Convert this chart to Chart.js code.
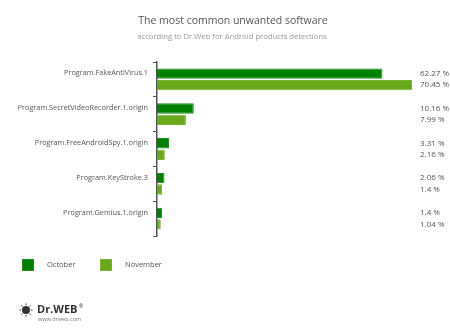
<!DOCTYPE html>
<html>
<head>
<meta charset="utf-8">
<script src="https://cdn.jsdelivr.net/npm/chart.js@4/dist/chart.umd.min.js"></script>
<style>
  html, body { margin: 0; padding: 0; background: #ffffff; }
  #wrap { position: relative; width: 450px; height: 332px; }
</style>
</head>
<body>
<div id="wrap"><canvas id="c" width="450" height="332"></canvas></div>
<script>
const categories = [
  "Program.FakeAntiVirus.1",
  "Program.SecretVideoRecorder.1.origin",
  "Program.FreeAndroidSpy.1.origin",
  "Program.KeyStroke.3",
  "Program.Gemius.1.origin"
];
const seriesNames = ["October", "November"];
const october = [62.27, 10.16, 3.31, 2.06, 1.4];
const november = [70.45, 7.99, 2.16, 1.4, 1.04];
const titleText = "The most common unwanted software";
const subtitleText = "according to Dr.Web for Android products detections";

const FONT = "'Open Sans', 'Noto Sans', sans-serif";
const colors = ["#008000", "#6aa81b"];
const borders = ["#1f8f1f", "#7bb535"];

const overlay = {
  id: 'overlay',
  afterDraw(chart) {
    const ctx = chart.ctx;
    ctx.save();
    // title
    ctx.textAlign = 'center';
    ctx.textBaseline = 'middle';
    ctx.fillStyle = '#555555';
    ctx.font = "10.5px " + FONT;
    ctx.fillText(titleText, 233, 21);
    ctx.fillStyle = '#999999';
    ctx.font = "7.7px " + FONT;
    ctx.fillText(subtitleText, 232, 37);

    // value labels
    ctx.textAlign = 'left';
    ctx.fillStyle = '#555555';
    ctx.font = "8px " + FONT;
    chart.data.datasets.forEach((ds, di) => {
      const meta = chart.getDatasetMeta(di);
      meta.data.forEach((bar, i) => {
        ctx.fillText(ds.data[i] + " %", 420, bar.y);
      });
    });

    // legend
    const legendX = [22, 100];
    chart.data.datasets.forEach((ds, di) => {
      const x = legendX[di];
      ctx.fillStyle = ds.backgroundColor;
      ctx.fillRect(x, 259, 12, 12);
      ctx.strokeStyle = ds.borderColor;
      ctx.lineWidth = 1;
      ctx.strokeRect(x + 0.5, 259.5, 11, 11);
      ctx.fillStyle = '#555555';
      ctx.font = "7.5px " + FONT;
      ctx.textAlign = 'left';
      ctx.fillText(ds.label, x + 25, 265);
    });

    // logo
    ctx.fillStyle = '#333333';
    ctx.beginPath();
    ctx.arc(26, 310, 4, 0, Math.PI * 2);
    ctx.fill();
    ctx.strokeStyle = '#333333';
    ctx.lineWidth = 1;
    for (let k = 0; k < 8; k++) {
      const a = k * Math.PI / 4;
      ctx.beginPath();
      ctx.moveTo(26 + Math.cos(a) * 5, 310 + Math.sin(a) * 5);
      ctx.lineTo(26 + Math.cos(a) * 6.5, 310 + Math.sin(a) * 6.5);
      ctx.stroke();
    }
    ctx.font = "bold 11px " + FONT;
    ctx.fillStyle = '#333333';
    ctx.textAlign = 'left';
    ctx.fillText("Dr.WEB", 37, 310);
    ctx.font = "5px " + FONT;
    ctx.fillText("®", 79, 307);
    ctx.fillStyle = '#777777';
    ctx.font = "5.5px " + FONT;
    ctx.fillText("www.drweb.com", 38, 319);
    ctx.restore();
  }
};

new Chart(document.getElementById('c'), {
  type: 'bar',
  data: {
    labels: categories,
    datasets: [
      { label: seriesNames[0], data: october, backgroundColor: colors[0], borderColor: borders[0], borderWidth: 1 },
      { label: seriesNames[1], data: november, backgroundColor: colors[1], borderColor: borders[1], borderWidth: 1 }
    ]
  },
  options: {
    indexAxis: 'y',
    responsive: false,
    animation: false,
    devicePixelRatio: 1,
    layout: { padding: { top: 62, bottom: 96, left: 0, right: 38 } },
    categoryPercentage: 0.66,
    barPercentage: 0.9,
    plugins: {
      legend: { display: false },
      title: { display: false },
      tooltip: { enabled: false }
    },
    scales: {
      x: {
        display: false,
        min: 0,
        max: Math.max(...october, ...november)
      },
      y: {
        afterFit(scale) { scale.width = 157; },
        grid: { drawOnChartArea: false, tickLength: 4, color: '#555555', offset: true },
        border: { color: '#555555', width: 1.5 },
        ticks: { color: '#555555', font: { family: FONT, size: 7.3 }, padding: 5, labelOffset: -6 }
      }
    }
  },
  plugins: [overlay]
});
</script>
</body>
</html>
